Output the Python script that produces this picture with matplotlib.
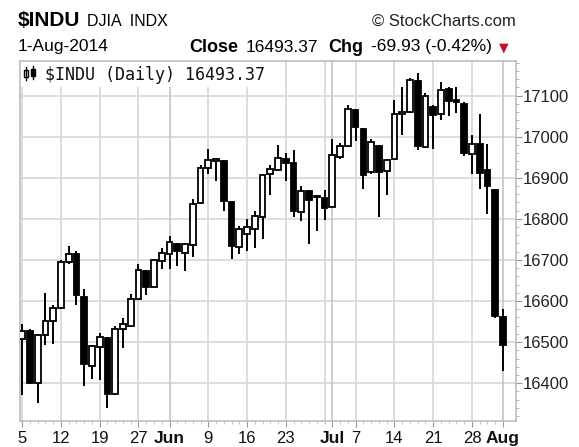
import numpy as np
import pandas as pd
import matplotlib
matplotlib.use('Agg')
import matplotlib.pyplot as plt
from matplotlib.patches import Rectangle
from matplotlib.lines import Line2D
from matplotlib.ticker import MultipleLocator

W, H = 579, 447

# trading days, May 5 - Aug 1 2014 (Memorial Day and Jul 4 closed)
dates = pd.bdate_range('2014-05-05', '2014-08-01', freq='C',
                       holidays=['2014-05-26', '2014-07-04'])

opens = [16508, 16527, 16400, 16518, 16551, 16583, 16695, 16714, 16610, 16443,
         16488, 16510, 16374, 16532, 16540, 16604, 16673, 16633, 16698, 16715,
         16739, 16716, 16736, 16838, 16924, 16940, 16941, 16840, 16732, 16762,
         16776, 16804, 16908, 16918, 16946, 16935, 16816, 16867, 16856, 16851,
         16828, 16950, 16977, 17064, 17019, 16914, 16976, 16917, 16946, 17056,
         17060, 17136, 16975, 17073, 17056, 17115, 17090, 17080, 16957, 16983,
         16918, 16869, 16560]
highs = [16545, 16532, 16520, 16620, 16590, 16700, 16735, 16722, 16628, 16492,
         16523, 16512, 16540, 16559, 16616, 16690, 16676, 16702, 16730, 16759,
         16741, 16740, 16847, 16930, 16969, 16948, 16943, 16843, 16783, 16800,
         16820, 16908, 16930, 16979, 16960, 16967, 16881, 16870, 16858, 16869,
         16995, 16985, 17077, 17066, 17021, 16995, 16980, 16945, 17090, 17120,
         17142, 17154, 17105, 17078, 17133, 17120, 17120, 17085, 17003, 17056,
         16983, 16872, 16580]
lows = [16372, 16397, 16352, 16494, 16496, 16580, 16690, 16590, 16393, 16410,
        16408, 16339, 16372, 16486, 16539, 16604, 16615, 16633, 16678, 16678,
        16685, 16673, 16706, 16836, 16910, 16893, 16820, 16702, 16715, 16722,
        16730, 16751, 16857, 16918, 16893, 16804, 16795, 16738, 16770, 16798,
        16828, 16945, 16977, 16990, 16872, 16910, 16804, 16857, 16946, 17003,
        17058, 16968, 16975, 16971, 17040, 17051, 17057, 16954, 16909, 16872,
        16812, 16558, 16429]
closes = [16527, 16401, 16518, 16551, 16583, 16695, 16715, 16614, 16447, 16491,
          16512, 16374, 16533, 16543, 16606, 16675, 16633, 16699, 16717, 16744,
          16722, 16738, 16836, 16924, 16943, 16946, 16844, 16734, 16776, 16781,
          16808, 16907, 16921, 16947, 16937, 16818, 16868, 16846, 16852, 16827,
          16956, 16976, 17068, 17024, 16907, 16986, 16915, 16944, 17055, 17061,
          17138, 16977, 17100, 17052, 17114, 17087, 17084, 16961, 16983, 16912,
          16880, 16563, 16493]

y_ticks = list(range(16400, 17101, 100))

o = np.array(opens, float)
h = np.array(highs, float)
l = np.array(lows, float)
c = np.array(closes, float)
x = np.arange(len(dates))


def fx(px):
    return px / W


def fy(py):
    return 1 - py / H


fig = plt.figure(figsize=(W / 100, H / 100), dpi=100)
fig.patch.set_facecolor('white')
ax = fig.add_axes([fx(20), fy(421), (516 - 20) / W, (421 - 61) / H])

# week starts / month starts for the vertical grid
week_start = [0] + [i for i in range(1, len(dates)) if dates[i].weekday() < dates[i - 1].weekday()]
month_start = [i for i in range(1, len(dates)) if dates[i].month != dates[i - 1].month]

for v in y_ticks:
    ax.axhline(v, color='#dadada', lw=1.3, zorder=1)
for i in sorted(set(week_start) | set(month_start)):
    ax.axvline(i, color='#c9c9c9' if i in month_start else '#dadada', lw=1.3, zorder=1)

# candles
up = c >= o
ax.vlines(x, l, h, color='black', lw=1.4, zorder=3)
body_h = np.maximum(np.abs(c - o), 1.0)
ax.bar(x, body_h, bottom=np.minimum(o, c), width=0.74,
       color=np.where(up, 'white', 'black'), edgecolor='black', lw=1.3, zorder=4)

ax.set_xlim(-0.28, 63.68)
ax.set_ylim(16308, 17184)

# y axis on the right
ax.yaxis.tick_right()
ax.set_yticks(y_ticks)
ax.yaxis.set_minor_locator(MultipleLocator(20))
ax.tick_params(axis='y', which='major', length=4, color='#999999', labelsize=12,
               pad=1, labelcolor='#222222')
ax.tick_params(axis='y', which='minor', length=2, color='#aaaaaa')
for t in ax.get_yticklabels():
    t.set_fontfamily('Liberation Sans')

# x labels: day number at week starts, month name at month starts
lab_pos, lab_txt, lab_bold = [], [], []
for i in range(len(dates)):
    if i in month_start:
        lab_pos.append(i); lab_txt.append(dates[i].strftime('%b')); lab_bold.append(True)
    elif i in week_start and (i + 1) not in month_start:
        lab_pos.append(i); lab_txt.append(str(dates[i].day)); lab_bold.append(False)
ax.set_xticks(lab_pos)
ax.set_xticklabels(lab_txt)
ax.set_xticks(x, minor=True)
ax.tick_params(axis='x', which='major', length=4, color='#999999', labelsize=12,
               pad=3, labelcolor='#111111')
ax.tick_params(axis='x', which='minor', length=2, color='#bbbbbb')
for t, b in zip(ax.get_xticklabels(), lab_bold):
    t.set_fontfamily('Liberation Sans')
    if b:
        t.set_fontweight('bold')
        t.set_fontsize(12.5)

for s in ax.spines.values():
    s.set_color('#bdbdbd')
    s.set_linewidth(1.2)

# inner legend label with white background
ax.add_patch(Rectangle((0, (421 - 87) / 360), (270 - 20) / 496, 1, transform=ax.transAxes,
                       facecolor='white', edgecolor='none', zorder=2))
ax.text((45 - 20) / 496, (421 - 75) / 360, '$INDU (Daily) 16493.37', transform=ax.transAxes,
        family='DejaVu Sans Mono', fontsize=12, va='center', ha='left', color='#111111', zorder=5)
# small candle icon
for (cx, top, bot, wt, wb, fill) in [(26, 70, 77, 67, 80, 'white'), (33, 69, 76, 66, 79, 'black')]:
    fig.add_artist(Line2D([fx(cx), fx(cx)], [fy(wt), fy(wb)], color='black', lw=1))
    fig.add_artist(Rectangle((fx(cx - 2), fy(bot)), 4 / W, (bot - top) / H,
                             facecolor=fill, edgecolor='black', lw=1))

# header
fig.text(fx(18), fy(21), '$INDU', fontsize=15, fontweight='bold', family='Liberation Sans',
         va='center', ha='left')
fig.text(fx(87), fy(22), 'DJIA  INDX', fontsize=11.5, family='Liberation Sans', va='center', ha='left')
fig.text(fx(516), fy(21), '\u00a9 StockCharts.com', fontsize=12, family='Liberation Sans',
         va='center', ha='right', color='#222222')
fig.text(fx(18), fy(47), '1-Aug-2014', fontsize=12.5, family='Liberation Sans', va='center', ha='left')
fig.text(fx(189), fy(47), 'Close', fontsize=13, fontweight='bold', family='Liberation Sans',
         va='center', ha='left')
fig.text(fx(246), fy(47), '16493.37', fontsize=12.5, family='Liberation Sans', va='center', ha='left')
fig.text(fx(328), fy(47), 'Chg', fontsize=13, fontweight='bold', family='Liberation Sans',
         va='center', ha='left')
fig.text(fx(371), fy(47), '-69.93 (-0.42%)', fontsize=12.5, family='Liberation Sans',
         va='center', ha='left')
fig.text(fx(499), fy(48), '\u25bc', fontsize=9, color='#c8102e', family='DejaVu Sans',
         va='center', ha='left')

fig.savefig('out.png', dpi=100, facecolor='white')
